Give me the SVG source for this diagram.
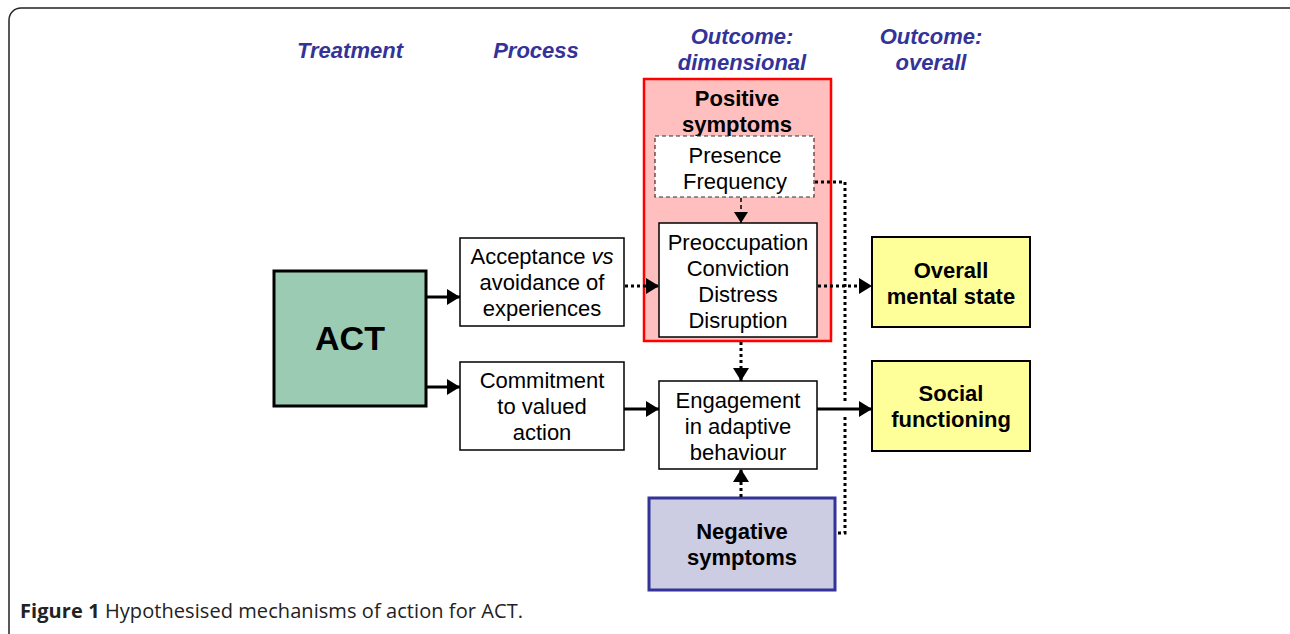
<svg xmlns="http://www.w3.org/2000/svg" width="1290" height="634" viewBox="0 0 1290 634">
<defs>
<marker id="ah" markerUnits="userSpaceOnUse" markerWidth="14" markerHeight="16" refX="13" refY="8" orient="auto">
<path d="M0,0 L13,8 L0,16 Z" fill="#000"/>
</marker>
<marker id="ahs" markerUnits="userSpaceOnUse" markerWidth="12" markerHeight="14" refX="11" refY="7" orient="auto">
<path d="M0,0 L11,7 L0,14 Z" fill="#000"/>
</marker>
</defs>
<style>
text{font-family:Arial,"Liberation Sans",Arimo,Helvetica,sans-serif}
.t{font-size:22px;fill:#000;text-anchor:middle}
.b{font-weight:bold}
.h{font-size:22px;font-weight:bold;font-style:italic;fill:#333399;text-anchor:middle}
.box{fill:#fff;stroke:#000;stroke-width:1.5}
.solid{fill:none;stroke:#000;stroke-width:3}
.dot{fill:none;stroke:#000;stroke-width:3;stroke-dasharray:3 3}
</style>
<rect x="9" y="8" width="1300" height="650" rx="12" fill="#fff" stroke="#222" stroke-width="1.5"/>

<g id="headers">
<text class="h" x="350" y="58">Treatment</text>
<text class="h" x="536" y="58">Process</text>
<text class="h" x="742" y="44">Outcome:</text>
<text class="h" x="742" y="70">dimensional</text>
<text class="h" x="931" y="44">Outcome:</text>
<text class="h" x="931" y="70">overall</text>
</g>

<g id="act">
<rect x="274" y="271" width="152" height="135" fill="#9ccbb3" stroke="#000" stroke-width="3"/>
<text class="t b" x="350" y="350" style="font-size:34px">ACT</text>
</g>

<g id="acceptance">
<rect class="box" x="460" y="238" width="164" height="88"/>
<text class="t" x="542" y="264">Acceptance <tspan font-style="italic">vs</tspan></text>
<text class="t" x="542" y="290">avoidance of</text>
<text class="t" x="542" y="316">experiences</text>
</g>

<g id="commitment">
<rect class="box" x="460" y="362" width="164" height="88"/>
<text class="t" x="542" y="388">Commitment</text>
<text class="t" x="542" y="414">to valued</text>
<text class="t" x="542" y="440">action</text>
</g>

<g id="positive">
<rect x="644" y="79" width="187" height="262" fill="#ffbfbf" stroke="#ff0000" stroke-width="2.5"/>
<text class="t b" x="737" y="106">Positive</text>
<text class="t b" x="737" y="132">symptoms</text>
</g>

<g id="presence">
<rect x="655" y="136" width="159" height="61" fill="#fff" stroke="#333" stroke-width="1.2" stroke-dasharray="4 3"/>
<text class="t" x="735" y="163">Presence</text>
<text class="t" x="735" y="189">Frequency</text>
</g>

<g id="preoccupation">
<rect class="box" x="659" y="223" width="158" height="114"/>
<text class="t" x="738" y="250">Preoccupation</text>
<text class="t" x="738" y="276">Conviction</text>
<text class="t" x="738" y="302">Distress</text>
<text class="t" x="738" y="328">Disruption</text>
</g>

<g id="engagement">
<rect class="box" x="659" y="381" width="158" height="88"/>
<text class="t" x="738" y="408">Engagement</text>
<text class="t" x="738" y="434">in adaptive</text>
<text class="t" x="738" y="460">behaviour</text>
</g>

<g id="negative">
<rect x="649" y="498" width="186" height="92" fill="#cccce3" stroke="#333399" stroke-width="3"/>
<text class="t b" x="742" y="539">Negative</text>
<text class="t b" x="742" y="565">symptoms</text>
</g>

<g id="overall">
<rect x="872" y="237" width="158" height="90" fill="#ffff99" stroke="#000" stroke-width="2"/>
<text class="t b" x="951" y="278">Overall</text>
<text class="t b" x="951" y="304">mental state</text>
</g>

<g id="social">
<rect x="872" y="361" width="158" height="90" fill="#ffff99" stroke="#000" stroke-width="2"/>
<text class="t b" x="951" y="401">Social</text>
<text class="t b" x="951" y="427">functioning</text>
</g>

<g id="connectors">
<path class="solid" d="M426,297 H460" marker-end="url(#ah)"/>
<path class="solid" d="M426,387 H460" marker-end="url(#ah)"/>
<path class="dot" d="M625,286 H659" marker-end="url(#ah)"/>
<path class="solid" d="M624,409 H659" marker-end="url(#ah)"/>
<path d="M741,198 V223" fill="none" stroke="#000" stroke-width="1.5" stroke-dasharray="4 3" marker-end="url(#ahs)"/>
<path class="dot" d="M818,286 H872" marker-end="url(#ah)"/>
<path class="dot" d="M741,342 V381" marker-end="url(#ah)"/>
<path class="dot" d="M741,497 V469" marker-end="url(#ah)"/>
<path class="dot" d="M815,182 H845 V403"/>
<path class="dot" d="M845,417 V533 H836"/>
<path class="solid" d="M817,409 H872" marker-end="url(#ah)"/>
</g>

<g id="caption">
<text x="20" y="618" textLength="503" style="font-family:'Open Sans','Liberation Sans',sans-serif;font-size:20px;fill:#222"><tspan font-weight="bold">Figure 1</tspan> Hypothesised mechanisms of action for ACT.</text>
</g>
</svg>
